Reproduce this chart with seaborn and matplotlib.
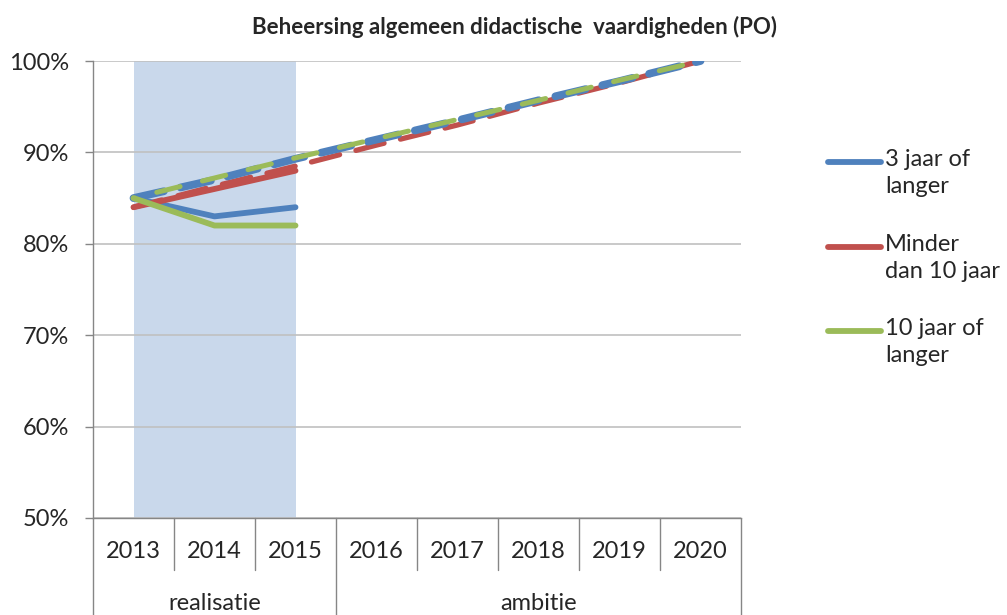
import numpy as np
import pandas as pd
import matplotlib
matplotlib.use("Agg")
import matplotlib.pyplot as plt
import seaborn as sns
from matplotlib.lines import Line2D
import matplotlib.transforms as mtransforms

sns.set_theme(style="white")
plt.rcParams['font.family'] = ['Lato', 'DejaVu Sans']

years = ["2013", "2014", "2015", "2016", "2017", "2018", "2019", "2020"]
groups = ["realisatie", "ambitie"]
group_sizes = [3, 5]
series = ["3 jaar of\nlanger", "Minder\ndan 10 jaar", "10 jaar of\nlanger"]
colors = ["#4F81BD", "#C0504D", "#9BBB59"]

# realised values (2013-2015)
real_3jaar = [85, 83, 84]
real_minder10 = [84, 86, 88]
real_10jaar = [85, 82, 82]
# ambition values (2013-2020)
amb_3jaar = [85, 87, 89.3, 91.4, 93.5, 95.7, 97.8, 100]
amb_minder10 = [84, 86.3, 88.5, 90.8, 93, 95.4, 97.6, 100]
amb_10jaar = [85, 87.2, 89.4, 91.5, 93.6, 95.7, 97.9, 100]

real = [real_3jaar, real_minder10, real_10jaar]

fig = plt.figure(figsize=(10.07, 6.15), dpi=100)
ax = fig.add_axes([93/1007, 97/615, 648/1007, 457/615])

# shaded realisation period
ax.axvspan(0, 2, color="#C9D8EB", zorder=0, lw=0)

# dashed ambition lines (red under blue under green, offset dashes)
dash_specs = [
    (amb_minder10, colors[1], 3.8, (0, (5.5, 3.2))),
    (amb_3jaar, colors[0], 5.6, (0, (4.0, 2.2))),
    (amb_10jaar, colors[2], 3.6, (14, (4.8, 4.6))),
]
for vals, col, lw, ls in dash_specs:
    df = pd.DataFrame({"x": np.arange(len(vals)), "y": vals})
    sns.lineplot(data=df, x="x", y="y", ax=ax, color=col, lw=lw, zorder=3)
    ln = ax.lines[-1]
    ln.set_linestyle(ls)
    ln.set_dash_capstyle("round")

# solid realised lines
for vals, col in zip(real, colors):
    df = pd.DataFrame({"x": np.arange(len(vals)), "y": vals})
    sns.lineplot(data=df, x="x", y="y", ax=ax, color=col, lw=4.2, zorder=4)
    ax.lines[-1].set_solid_capstyle("round")

ax.set_xlim(-0.5, 7.5)
ax.set_ylim(50, 100)
ax.set_yticks(range(50, 101, 10))
ax.set_yticklabels([f"{v}%" for v in range(50, 101, 10)], fontsize=17)
ax.yaxis.grid(True, color="#C0C0C0", lw=1.2)
ax.set_axisbelow(True)
ax.tick_params(axis="y", length=6, width=1, color="#868686", left=True, pad=11)
ax.set_xticks([])
ax.set_xlabel("")
ax.set_ylabel("")
for s in ["top", "right"]:
    ax.spines[s].set_visible(False)
ax.spines["left"].set_color("#868686")
ax.spines["bottom"].set_color("#868686")
ax.spines["left"].set_linewidth(1)
ax.spines["bottom"].set_linewidth(1)

# multi-level category axis
trans = mtransforms.blended_transform_factory(ax.transData, ax.transAxes)
group_edges = np.cumsum([0] + group_sizes) - 0.5
for b in np.arange(-0.5, len(years)):
    y_end = -0.212 if b in group_edges else -0.114
    ax.add_line(Line2D([b, b], [0, y_end], transform=trans, color="#868686",
                       lw=1, clip_on=False))
for i, yr in enumerate(years):
    ax.text(i, -0.074, yr, transform=trans, ha="center", va="center", fontsize=17)
for g, (lo, hi) in zip(groups, zip(group_edges[:-1], group_edges[1:])):
    ax.text((lo + hi) / 2, -0.186, g, transform=trans, ha="center", va="center", fontsize=17)

fig.text(515/1007, 1 - 27/615, "Beheersing algemeen didactische  vaardigheden (PO)",
         ha="center", va="center", fontsize=16, fontweight="bold")

# legend: handle aligned with first text line
legend_y = [162, 247, 331]
for lab, col, yp in zip(series, colors, legend_y):
    yf = 1 - yp / 615
    fig.add_artist(Line2D([828/1007, 881/1007], [yf, yf], color=col, lw=4.2,
                          solid_capstyle="round", transform=fig.transFigure))
    fig.text(885/1007, 1 - (yp - 13) / 615, lab, ha="left", va="top",
             fontsize=17, linespacing=1.35)

fig.savefig("out.png", dpi=100)
